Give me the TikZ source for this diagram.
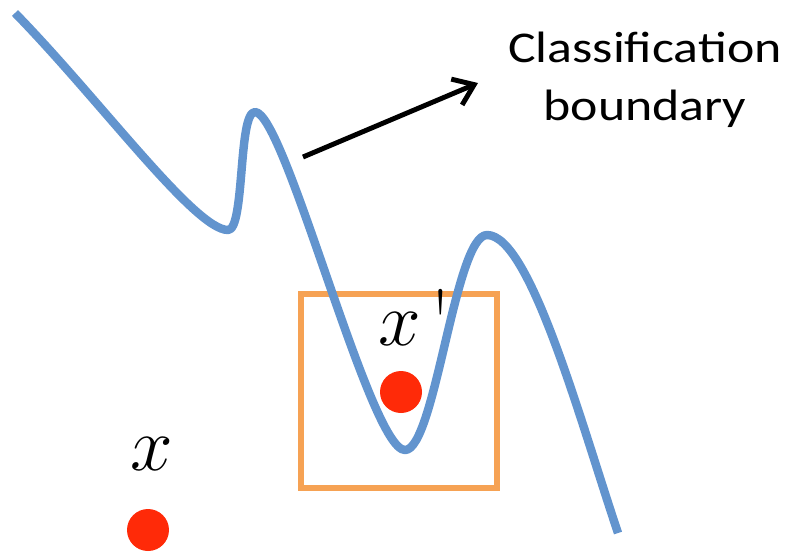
\documentclass[tikz,border=0pt]{standalone}
\usepackage{graphicx}
\usepackage{fontspec}
\newfontfamily\labelfont{Carlito}
\usetikzlibrary{arrows.meta, positioning}
\definecolor{boundaryblue}{RGB}{98,148,206}
\definecolor{boxorange}{RGB}{246,162,84}
\definecolor{pointred}{RGB}{255,42,8}

\begin{document}
\begin{tikzpicture}[x=0.02cm, y=-0.02cm,
    dot/.style={circle, fill=pointred, inner sep=0pt, minimum size=0.84cm},
    varlabel/.style={inner sep=0pt, font=\Huge}]
  \useasboundingbox (0,0) rectangle (793,558);
  \draw[boxorange, line width=3.4pt] (301,294) rectangle (497,488);
  \draw[boundaryblue, line width=4.8pt, line join=round]
    (15,13) .. controls (100,100) and (195,230) .. (228,230)
    .. controls (245,230) and (238,112) .. (255,112)
    .. controls (285,112) and (370,450) .. (405,450)
    .. controls (435,450) and (455,235) .. (487,235)
    .. controls (530,235) and (580,420) .. (618,533);
  \node[dot] (xpoint) at (148,530) {};
  \node[dot] (xprimepoint) at (401,392) {};
  \node[varlabel, anchor=base] (xlabel) at (152,470) {\scalebox{1.75}{$x$}};
  \node[varlabel, anchor=base west] (xprimelabel) at (378,345)
    {\scalebox{1.75}{$x$}\hspace{6pt}\raisebox{-5pt}{\scalebox{1.7}[2.1]{\textquotesingle}}};
  \node[inner sep=0pt, align=center, xscale=1.18, transform shape,
    font=\labelfont\fontsize{25}{33}\selectfont]
    (boundarylabel) at (645,80) {Classification\\boundary};
  \coordinate (arrowtail) at (303,157);
  \coordinate (arrowhead) at (478,83);
  \draw[line width=2.8pt, -{Straight Barb[length=3.8mm, width=5.6mm]}] (arrowtail) -- (arrowhead);
\end{tikzpicture}
\end{document}
